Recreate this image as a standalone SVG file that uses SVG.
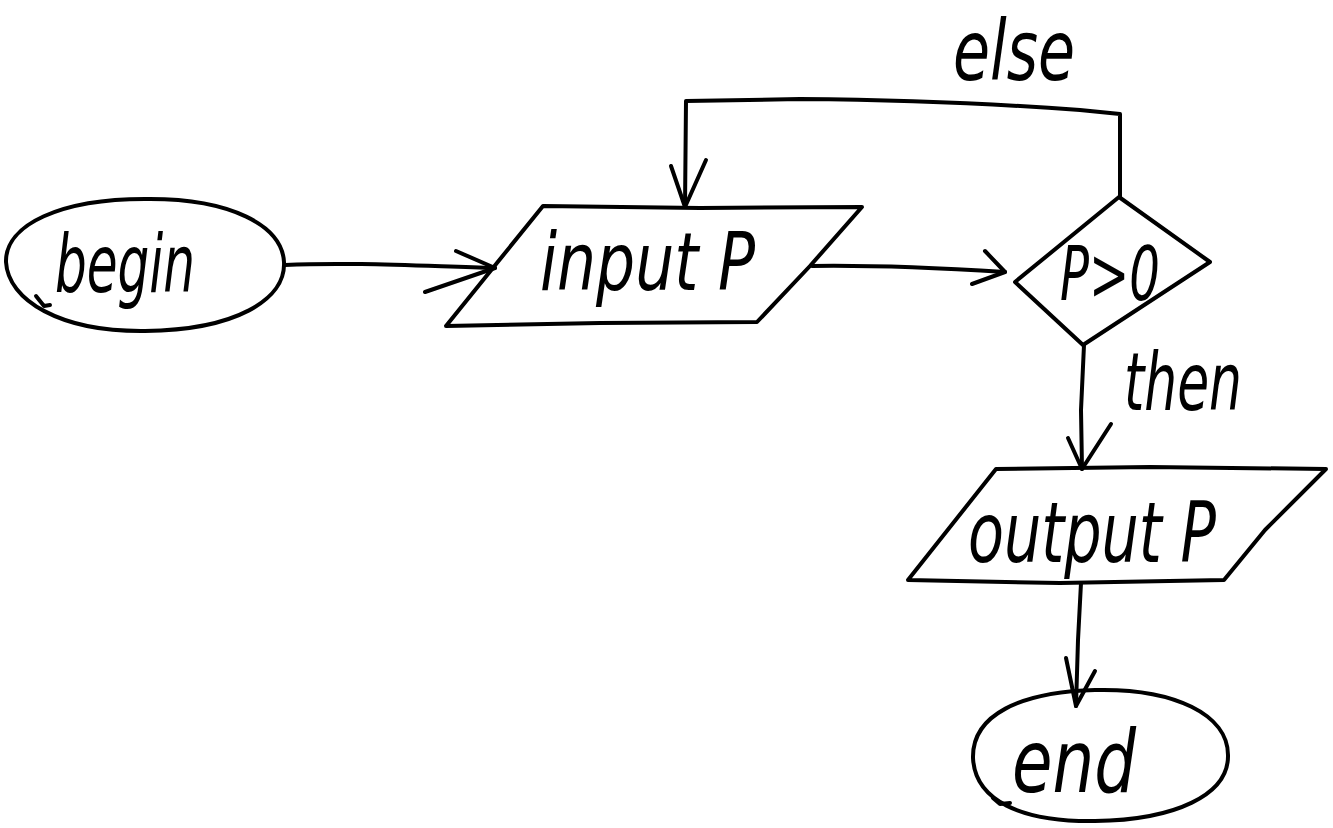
<svg xmlns="http://www.w3.org/2000/svg" width="1333" height="828" viewBox="0 0 1333 828">
  <style>
    .ink { fill: none; stroke: #000; stroke-width: 4; stroke-linecap: round; stroke-linejoin: round; }
    .hand { font-family: "DejaVu Sans", "Liberation Sans", sans-serif; font-style: italic; font-size: 80px; fill: #000; }
  </style>
  <rect width="1333" height="828" fill="#fff"/>

  <!-- start terminal -->
  <g id="begin">
    <path class="ink" d="M150,199 C230,199 282,225 284,262 C286,300 235,330 145,331 C60,332 8,300 6,262 C5,225 60,198 150,199 Z"/>
    <path class="ink" d="M36,296 L44,306 L50,305"/>
    <text class="hand" x="55" y="292" textLength="140" lengthAdjust="spacingAndGlyphs">begin</text>
  </g>

  <!-- input data block -->
  <g id="input">
    <path class="ink" d="M543,206 L700,208 L862,207 L810,266 L757,322 L600,323 L446,326 Z"/>
    <text class="hand" x="540" y="290" textLength="215" lengthAdjust="spacingAndGlyphs">input P</text>
  </g>

  <!-- decision -->
  <g id="decision">
    <path class="ink" d="M1119,197 L1210,262 L1083,345 L1015,282 Z"/>
    <text class="hand" x="1060" y="300" textLength="100" lengthAdjust="spacingAndGlyphs" style="font-size:74px">P&gt;0</text>
  </g>

  <!-- output data block -->
  <g id="output">
    <path class="ink" d="M996,469 L1150,467 L1326,469 L1265,530 L1224,580 L1060,583 L908,580 Z"/>
    <text class="hand" x="968" y="562" textLength="248" lengthAdjust="spacingAndGlyphs" style="font-size:84px">output P</text>
  </g>

  <!-- end terminal -->
  <g id="end">
    <path class="ink" d="M1095,690 C1175,688 1228,715 1228,755 C1229,795 1175,820 1095,821 C1020,822 975,800 973,758 C972,715 1020,692 1095,690 Z"/>
    <path class="ink" d="M993,798 L1000,804 L1010,803"/>
    <text class="hand" x="1012" y="792" textLength="124" lengthAdjust="spacingAndGlyphs" style="font-size:88px">end</text>
  </g>

  <!-- connectors -->
  <g id="connectors">
    <!-- begin to input -->
    <path class="ink" d="M285,265 C350,262 420,266 495,268"/>
    <path class="ink" d="M456,251 L495,268 L425,292"/>
    <!-- input to decision -->
    <path class="ink" d="M812,266 C880,265 940,268 1005,272"/>
    <path class="ink" d="M985,251 L1005,272 L972,284"/>
    <!-- else loop back to input -->
    <path class="ink" d="M1120,197 L1120,114 L1080,110 C1000,104 900,100 800,99 L686,101 L685,207"/>
    <path class="ink" d="M671,166 L685,207 L706,160"/>
    <text class="hand" x="953" y="80" textLength="122" lengthAdjust="spacingAndGlyphs" style="font-size:84px">else</text>
    <!-- then branch down to output -->
    <path class="ink" d="M1084,345 L1081,410 L1082,469"/>
    <path class="ink" d="M1068,438 L1082,469 L1111,424"/>
    <text class="hand" x="1124" y="410" textLength="118" lengthAdjust="spacingAndGlyphs">then</text>
    <!-- output to end -->
    <path class="ink" d="M1081,583 L1078,640 L1076,706"/>
    <path class="ink" d="M1066,658 L1076,706 L1095,671"/>
  </g>
</svg>
